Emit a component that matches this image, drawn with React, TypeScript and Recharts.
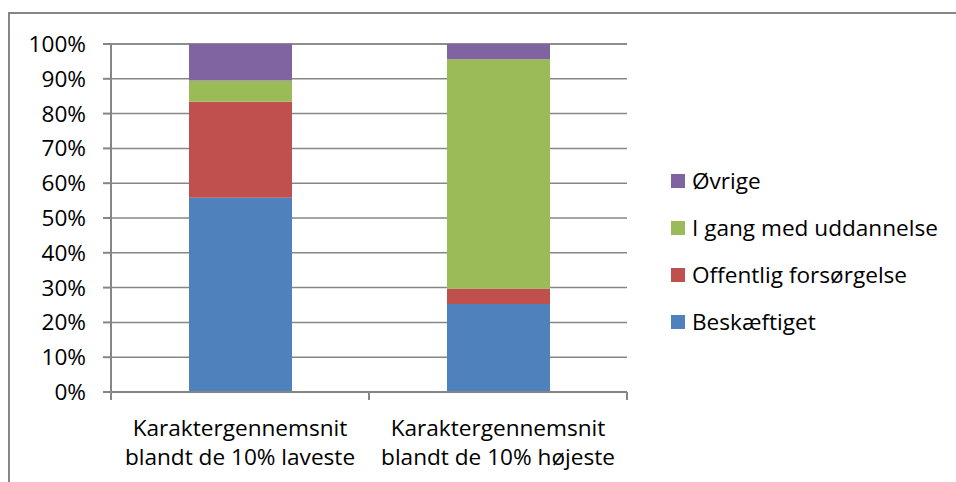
import { Bar, BarChart, CartesianGrid, XAxis, YAxis } from "recharts";

// two-line category labels, as in the original
const categories = [
  ["Karaktergennemsnit", "blandt de 10% laveste"],
  ["Karaktergennemsnit", "blandt de 10% højeste"],
];

const beskaeftiget = [55.8, 25.3];
const offentlig = [27.6, 4.4];
const uddannelse = [6.1, 65.9];
const oevrige = [10.5, 4.4];

const yTicks = [0, 10, 20, 30, 40, 50, 60, 70, 80, 90, 100];

const series = [
  { key: "beskaeftiget", name: "Beskæftiget", color: "#4F81BD" },
  { key: "offentlig", name: "Offentlig forsørgelse", color: "#C0504D" },
  { key: "uddannelse", name: "I gang med uddannelse", color: "#9BBB59" },
  { key: "oevrige", name: "Øvrige", color: "#8064A2" },
];

const data = categories.map((lines, i) => ({
  cat: String(i),
  beskaeftiget: beskaeftiget[i],
  offentlig: offentlig[i],
  uddannelse: uddannelse[i],
  oevrige: oevrige[i],
}));

const W = 956;
const H = 482;
const PLOT_LEFT = 111;
const PLOT_RIGHT = 627;
const PLOT_TOP = 44;
const PLOT_BOTTOM = 392;
const FONT = "'Open Sans', 'Noto Sans', sans-serif";
const FS = 22.6;
const AXIS = "#868686";

const bandWidth = (PLOT_RIGHT - PLOT_LEFT) / categories.length;

function CategoryTick(props: any) {
  const { x, y, payload, index } = props;
  const lines = categories[Number(payload.value)];
  const left = x - bandWidth / 2;
  return (
    <g>
      <line x1={left} y1={y - 8} x2={left} y2={y} stroke={AXIS} strokeWidth={2} />
      {index === categories.length - 1 && (
        <line x1={left + bandWidth} y1={y - 8} x2={left + bandWidth} y2={y} stroke={AXIS} strokeWidth={2} />
      )}
      <text x={x} y={y + 36} textAnchor="middle" fontSize={FS} fontFamily={FONT} fill="#000">
        <tspan x={x} dy={0}>{lines[0]}</tspan>
        <tspan x={x} dy={29}>{lines[1]}</tspan>
      </text>
    </g>
  );
}

// legend sits to the right of the plot, top item = top of the stack
function LegendBox() {
  return (
    <div style={{ position: "absolute", left: 671, top: 157, fontFamily: FONT, fontSize: FS, color: "#000" }}>
      {[...series].reverse().map((s) => (
        <div key={s.key} style={{ display: "flex", alignItems: "center", height: 47 }}>
          <span style={{ width: 14, height: 14, background: s.color, marginRight: 7, flexShrink: 0 }} />
          <span style={{ whiteSpace: "nowrap" }}>{s.name}</span>
        </div>
      ))}
    </div>
  );
}

export default function App() {
  return (
    <div style={{ position: "absolute", left: 0, top: 0, width: W, height: H, background: "#fff", overflow: "hidden" }}>
      <div
        style={{
          position: "absolute",
          left: 8,
          top: 12,
          width: W,
          height: H,
          border: `2px solid ${AXIS}`,
        }}
      />
      <div style={{ position: "absolute", left: 0, top: 0 }}>
        <BarChart
          width={W}
          height={H}
          data={data}
          margin={{ top: PLOT_TOP, right: W - PLOT_RIGHT, bottom: 0, left: PLOT_LEFT - 60 }}
          barSize={103}
        >
          <CartesianGrid vertical={false} stroke={AXIS} strokeWidth={1.5} />
          <XAxis
            dataKey="cat"
            height={H - PLOT_BOTTOM}
            interval={0}
            tickLine={false}
            axisLine={{ stroke: AXIS, strokeWidth: 2 }}
            tick={<CategoryTick />}
          />
          <YAxis
            width={60}
            domain={[0, 100]}
            ticks={yTicks}
            interval={0}
            tickFormatter={(v) => `${v}%`}
            tickSize={8}
            tickMargin={17}
            tickLine={{ stroke: AXIS, strokeWidth: 2 }}
            axisLine={{ stroke: AXIS, strokeWidth: 2 }}
            tick={{ fontSize: FS, fontFamily: FONT, fill: "#000" }}
          />
          {series.map((s) => (
            <Bar key={s.key} dataKey={s.key} name={s.name} stackId="a" fill={s.color} isAnimationActive={false} />
          ))}
        </BarChart>
      </div>
      <LegendBox />
    </div>
  );
}
